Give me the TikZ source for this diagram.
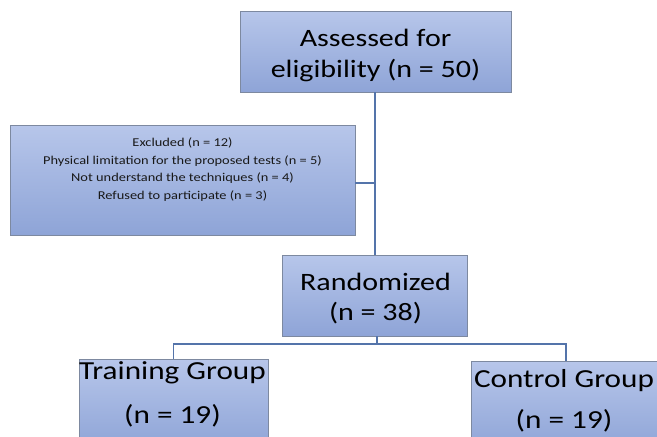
\documentclass[tikz,border=0pt]{standalone}
\usepackage{fontspec}
\setmainfont{Carlito}[FakeStretch=1.2]
\definecolor{boxtop}{RGB}{183,198,234}
\definecolor{boxbot}{RGB}{142,164,215}
\definecolor{boxline}{RGB}{125,137,160}
\definecolor{conn}{RGB}{84,116,170}
\begin{document}
\begin{tikzpicture}[x=1pt,y=-1pt,
  box/.style={rectangle, draw=boxline, line width=0.8pt, top color=boxtop, bottom color=boxbot, inner sep=0pt},
  big/.style={font=\fontsize{25}{29}\selectfont, anchor=base, inner sep=0pt},
  bigger/.style={font=\fontsize{26}{29}\selectfont, anchor=base, inner sep=0pt},
  small/.style={font=\fontsize{12}{17.5}\selectfont, align=center, text=black!90},
  link/.style={draw=conn, line width=1.1pt}]
\useasboundingbox (0,0) rectangle (657,437);
\clip (0,0) rectangle (657,437);
\fill[white] (0,0) rectangle (657,437);
% boxes
\node[box, minimum width=271pt, minimum height=81pt] (top) at (375.5,51.5) {};
\node[big] (toptxt1) at (375.5,46) {Assessed for};
\node[big] (toptxt2) at (375.5,77.5) {eligibility (n = 50)};
\node[box, minimum width=345pt, minimum height=110pt] (excl) at (182.5,180) {};
\node[small] (excltxt) at (182.5,169.5) {Excluded (n = 12)\\Physical limitation for the proposed tests (n = 5)\\Not understand the techniques (n = 4)\\Refused to participate (n = 3)};
\node[box, minimum width=185pt, minimum height=81pt] (rand) at (374.5,295.5) {};
\node[big] (randtxt1) at (375.5,290) {Randomized};
\node[big] (randtxt2) at (375.5,320) {(n = 38)};
\node[box, minimum width=189pt, minimum height=90pt] (train) at (173.5,404) {};
\node[bigger] (traintxt1) at (172.5,379) {Training Group};
\node[bigger] (traintxt2) at (172.5,423) {(n = 19)};
\node[box, minimum width=190pt, minimum height=90pt] (ctrl) at (566,406) {};
\node[bigger] (ctrltxt1) at (564,387) {Control Group};
\node[bigger] (ctrltxt2) at (564,428) {(n = 19)};
% connectors
\coordinate (j1) at (375,183);
\coordinate (j2) at (377,344);
\draw[link] (top.south -| j1) -- (rand.north -| j1);
\draw[link] (excl.east |- j1) -- (j1);
\draw[link] (rand.south -| j2) -- (j2);
\draw[link] (train.north) -- (train.north |- j2) -- (ctrl.north |- j2) -- (ctrl.north);
\end{tikzpicture}
\end{document}
